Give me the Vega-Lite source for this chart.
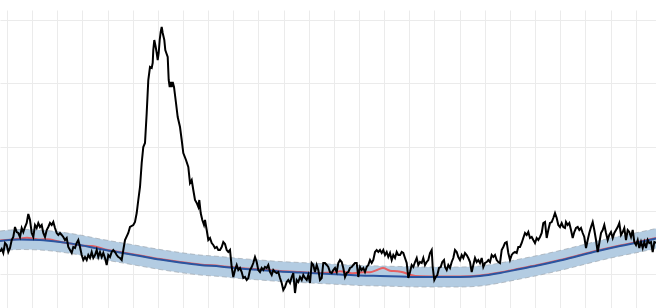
{
  "$schema": "https://vega.github.io/schema/vega-lite/v6.json",
  "width": 656,
  "height": 298,
  "autosize": "none",
  "padding": {"top": 10, "left": 0, "right": 0, "bottom": 0},
  "background": "white",
  "config": {
    "view": {"stroke": null},
    "axis": {"grid": true, "gridColor": "#ebebeb", "gridWidth": 1, "labels": false, "ticks": false, "domain": false, "title": null, "labelOverlap": false}
  },
  "datasets": {
    "trend": [
      {"t": 0, "v": 67}, {"t": 20, "v": 68.5}, {"t": 40, "v": 68}, {"t": 60, "v": 66}, {"t": 80, "v": 63},
      {"t": 100, "v": 59}, {"t": 120, "v": 55.5}, {"t": 140, "v": 52}, {"t": 160, "v": 48.5}, {"t": 180, "v": 45.5},
      {"t": 200, "v": 43}, {"t": 220, "v": 41.5}, {"t": 240, "v": 39.5}, {"t": 260, "v": 38}, {"t": 280, "v": 36.5},
      {"t": 300, "v": 35.5}, {"t": 320, "v": 34.5}, {"t": 340, "v": 33.5}, {"t": 360, "v": 32.5}, {"t": 380, "v": 32},
      {"t": 400, "v": 31.5}, {"t": 420, "v": 31}, {"t": 440, "v": 31}, {"t": 460, "v": 31}, {"t": 480, "v": 32},
      {"t": 500, "v": 35}, {"t": 520, "v": 39}, {"t": 540, "v": 43}, {"t": 560, "v": 47.5}, {"t": 580, "v": 52.5},
      {"t": 600, "v": 57.5}, {"t": 620, "v": 62}, {"t": 640, "v": 66}, {"t": 656, "v": 69.5}
    ],
    "band": [
      {"t": 0, "lo": 57, "hi": 77}, {"t": 20, "lo": 58.5, "hi": 78.5}, {"t": 40, "lo": 58, "hi": 78}, {"t": 60, "lo": 56, "hi": 76}, {"t": 80, "lo": 53, "hi": 73},
      {"t": 100, "lo": 49, "hi": 69}, {"t": 120, "lo": 45.5, "hi": 65.5}, {"t": 140, "lo": 42, "hi": 62}, {"t": 160, "lo": 38.5, "hi": 58.5}, {"t": 180, "lo": 35.5, "hi": 55.5},
      {"t": 200, "lo": 33, "hi": 53}, {"t": 220, "lo": 31.5, "hi": 51.5}, {"t": 240, "lo": 29.5, "hi": 49.5}, {"t": 260, "lo": 28, "hi": 48}, {"t": 280, "lo": 26.5, "hi": 46.5},
      {"t": 300, "lo": 25.5, "hi": 45.5}, {"t": 320, "lo": 24.5, "hi": 44.5}, {"t": 340, "lo": 23.5, "hi": 43.5}, {"t": 360, "lo": 22.5, "hi": 42.5}, {"t": 380, "lo": 22, "hi": 42},
      {"t": 400, "lo": 21.5, "hi": 41.5}, {"t": 420, "lo": 21, "hi": 41}, {"t": 440, "lo": 21, "hi": 41}, {"t": 460, "lo": 21, "hi": 41}, {"t": 480, "lo": 22, "hi": 42},
      {"t": 500, "lo": 25, "hi": 45}, {"t": 520, "lo": 29, "hi": 49}, {"t": 540, "lo": 33, "hi": 53}, {"t": 560, "lo": 37.5, "hi": 57.5}, {"t": 580, "lo": 42.5, "hi": 62.5},
      {"t": 600, "lo": 47.5, "hi": 67.5}, {"t": 620, "lo": 52, "hi": 72}, {"t": 640, "lo": 56, "hi": 76}, {"t": 656, "lo": 59.5, "hi": 79.5}
    ],
    "fit": [
      {"t": 0, "v": 67.5}, {"t": 10, "v": 68.3}, {"t": 20, "v": 69.5}, {"t": 27, "v": 70.3}, {"t": 33, "v": 69.5},
      {"t": 40, "v": 68.5}, {"t": 48, "v": 68.8}, {"t": 55, "v": 67.3}, {"t": 70, "v": 64.5}, {"t": 85, "v": 62.2},
      {"t": 92, "v": 62}, {"t": 97, "v": 61}, {"t": 105, "v": 58.5}, {"t": 120, "v": 56}, {"t": 140, "v": 52.5},
      {"t": 160, "v": 49}, {"t": 180, "v": 46}, {"t": 200, "v": 43.5}, {"t": 220, "v": 42}, {"t": 240, "v": 40},
      {"t": 260, "v": 38.5}, {"t": 280, "v": 37}, {"t": 300, "v": 36}, {"t": 320, "v": 35}, {"t": 335, "v": 35.7},
      {"t": 340, "v": 36.7}, {"t": 347, "v": 35.7}, {"t": 353, "v": 34.7}, {"t": 363, "v": 35.7}, {"t": 370, "v": 35.7},
      {"t": 377, "v": 38}, {"t": 383, "v": 40}, {"t": 390, "v": 37.3}, {"t": 397, "v": 36.7}, {"t": 403, "v": 35.7},
      {"t": 410, "v": 33.3}, {"t": 420, "v": 31.7}, {"t": 440, "v": 31.5}, {"t": 460, "v": 31.5}, {"t": 480, "v": 32.5},
      {"t": 500, "v": 35.5}, {"t": 520, "v": 39.5}, {"t": 540, "v": 43.5}, {"t": 560, "v": 48}, {"t": 580, "v": 53},
      {"t": 600, "v": 58}, {"t": 620, "v": 62.5}, {"t": 640, "v": 66.5}, {"t": 656, "v": 70}
    ],
    "series": [
      {"t":0,"v":56.3},{"t":1.7,"v":59},{"t":3.3,"v":55},{"t":5,"v":65},{"t":6.7,"v":63},{"t":8.3,"v":56},{"t":10,"v":60},{"t":11.7,"v":68},{"t":13.3,"v":71},{"t":15,"v":81},
      {"t":16.7,"v":76},{"t":18.3,"v":75},{"t":20,"v":71},{"t":21.7,"v":80},{"t":23.3,"v":76},{"t":25,"v":81},{"t":26.7,"v":85},{"t":28.3,"v":94},{"t":30,"v":88},{"t":31.7,"v":75},
      {"t":33.3,"v":71},{"t":35,"v":83},{"t":36.7,"v":80},{"t":38.3,"v":85},{"t":40,"v":81},{"t":41.7,"v":83},{"t":43.3,"v":75},{"t":45,"v":71},{"t":46.7,"v":78},{"t":48.3,"v":81},
      {"t":50,"v":85},{"t":51.7,"v":83},{"t":53.3,"v":86},{"t":55,"v":80},{"t":56.7,"v":75},{"t":58.3,"v":73},{"t":60,"v":75},{"t":61.7,"v":73},{"t":63.3,"v":71},{"t":65,"v":68},
      {"t":66.7,"v":70},{"t":68.3,"v":61},{"t":70,"v":58},{"t":71.7,"v":55},{"t":73.3,"v":61},{"t":75,"v":60},{"t":76.7,"v":65},{"t":78.3,"v":68},{"t":80,"v":61},{"t":81.7,"v":53},
      {"t":83.3,"v":48},{"t":85,"v":51},{"t":86.7,"v":48},{"t":88.3,"v":53},{"t":90,"v":50},{"t":91.7,"v":56},{"t":93.3,"v":50},{"t":95,"v":53},{"t":96.7,"v":58},{"t":98.3,"v":51},
      {"t":100,"v":56},{"t":101.7,"v":51},{"t":103.3,"v":55},{"t":105,"v":50},{"t":106.7,"v":43},{"t":108.3,"v":53},{"t":110,"v":51},{"t":111.7,"v":56},{"t":113.3,"v":58},{"t":115,"v":56},
      {"t":116.7,"v":53},{"t":118.3,"v":51},{"t":120,"v":50},{"t":121.7,"v":48},{"t":123.3,"v":58},{"t":125,"v":68},{"t":128.3,"v":75},{"t":130,"v":81},{"t":133.3,"v":83},{"t":135,"v":86},
      {"t":136.7,"v":95},{"t":138.3,"v":108},{"t":140,"v":121},{"t":141.7,"v":145},{"t":143.3,"v":161},{"t":145,"v":165},{"t":146.7,"v":195},{"t":148.3,"v":228},{"t":150,"v":241},{"t":151.7,"v":240},
      {"t":152.7,"v":245},{"t":153.3,"v":258},{"t":154.3,"v":268},{"t":155.7,"v":261},{"t":156.7,"v":255},{"t":157.7,"v":248},{"t":158.7,"v":255},{"t":159.7,"v":268},{"t":160.7,"v":276},{"t":161.7,"v":281},
      {"t":162.7,"v":275},{"t":164.3,"v":268},{"t":165.3,"v":258},{"t":166.3,"v":255},{"t":167.7,"v":251},{"t":168.7,"v":228},{"t":169.7,"v":221},{"t":170.7,"v":226},{"t":171.7,"v":221},{"t":172.7,"v":226},
      {"t":174,"v":221},{"t":176,"v":205},{"t":177.7,"v":191},{"t":180,"v":181},{"t":181.7,"v":168},{"t":183.3,"v":155},{"t":186,"v":148},{"t":188.3,"v":141},{"t":190,"v":125},{"t":191.7,"v":128},
      {"t":193.3,"v":118},{"t":195,"v":108},{"t":196.7,"v":105},{"t":198.3,"v":101},{"t":199.3,"v":108},{"t":200.7,"v":95},{"t":202.3,"v":88},{"t":204,"v":83},{"t":205,"v":88},{"t":206.7,"v":78},
      {"t":208.3,"v":68},{"t":210,"v":70},{"t":211.7,"v":65},{"t":213.3,"v":63},{"t":215,"v":60},{"t":216.7,"v":61},{"t":218.3,"v":58},{"t":220,"v":58},{"t":221.7,"v":61},{"t":223.3,"v":66},
      {"t":225,"v":64},{"t":226.7,"v":58},{"t":228.3,"v":56},{"t":230,"v":58},{"t":231.7,"v":41},{"t":233.3,"v":31},{"t":235,"v":38},{"t":236.7,"v":43},{"t":238.3,"v":38},{"t":240,"v":40},
      {"t":241.7,"v":36},{"t":243.3,"v":30},{"t":245,"v":31},{"t":246.7,"v":28},{"t":248.3,"v":30},{"t":250,"v":38},{"t":251.7,"v":41},{"t":253.3,"v":45},{"t":255,"v":51},{"t":256.7,"v":46},
      {"t":258.3,"v":38},{"t":260,"v":36},{"t":261.7,"v":40},{"t":263.3,"v":38},{"t":265,"v":41},{"t":266.7,"v":40},{"t":268.3,"v":43},{"t":270,"v":36},{"t":271.7,"v":33},{"t":273.3,"v":38},
      {"t":275,"v":36},{"t":276.7,"v":35},{"t":278.3,"v":36},{"t":280,"v":30},{"t":281.7,"v":25},{"t":283.3,"v":18},{"t":285,"v":21},{"t":286.7,"v":26},{"t":288.3,"v":28},{"t":290,"v":25},
      {"t":291.7,"v":31},{"t":293.3,"v":35},{"t":295,"v":15},{"t":296.7,"v":28},{"t":298.3,"v":26},{"t":300,"v":31},{"t":301.7,"v":28},{"t":303.3,"v":33},{"t":305,"v":30},{"t":306.7,"v":28},
      {"t":308.3,"v":33},{"t":310,"v":25},{"t":311.7,"v":45},{"t":313.3,"v":43},{"t":315,"v":36},{"t":316.7,"v":43},{"t":318.3,"v":38},{"t":320,"v":28},{"t":321.7,"v":30},{"t":323.3,"v":45},
      {"t":325,"v":45},{"t":326.7,"v":43},{"t":328.3,"v":41},{"t":330,"v":36},{"t":331.7,"v":35},{"t":333.3,"v":38},{"t":335,"v":40},{"t":336.7,"v":36},{"t":338.3,"v":45},{"t":340,"v":48},
      {"t":341.7,"v":46},{"t":343.3,"v":40},{"t":345,"v":31},{"t":346.7,"v":35},{"t":348.3,"v":36},{"t":350,"v":40},{"t":351.7,"v":41},{"t":353.3,"v":43},{"t":355,"v":45},{"t":356.7,"v":45},
      {"t":358.3,"v":31},{"t":360,"v":41},{"t":361.7,"v":38},{"t":363.3,"v":40},{"t":365,"v":36},{"t":366.7,"v":41},{"t":368.3,"v":43},{"t":370,"v":48},{"t":371.7,"v":45},{"t":373.3,"v":48},
      {"t":375,"v":56},{"t":376.7,"v":58},{"t":378.3,"v":56},{"t":380,"v":58},{"t":381.7,"v":55},{"t":383.3,"v":58},{"t":385,"v":53},{"t":386.7,"v":56},{"t":388.3,"v":51},{"t":390,"v":55},
      {"t":391.7,"v":48},{"t":393.3,"v":53},{"t":395,"v":50},{"t":396.7,"v":56},{"t":398.3,"v":53},{"t":400,"v":53},{"t":401.7,"v":56},{"t":403.3,"v":55},{"t":405,"v":50},{"t":406.7,"v":45},
      {"t":408.3,"v":30},{"t":410,"v":36},{"t":411.7,"v":43},{"t":413.3,"v":41},{"t":415,"v":46},{"t":416.7,"v":50},{"t":418.3,"v":43},{"t":420,"v":46},{"t":421.7,"v":45},{"t":423.3,"v":50},
      {"t":425,"v":43},{"t":426.7,"v":46},{"t":428.3,"v":48},{"t":430,"v":55},{"t":431.7,"v":58},{"t":432.7,"v":41},{"t":434.3,"v":28},{"t":435.7,"v":31},{"t":437.3,"v":33},{"t":439,"v":40},
      {"t":440.7,"v":41},{"t":442.3,"v":46},{"t":444,"v":48},{"t":445,"v":41},{"t":446.7,"v":38},{"t":448.3,"v":43},{"t":450,"v":40},{"t":451.7,"v":46},{"t":453.3,"v":50},{"t":455,"v":58},
      {"t":456.7,"v":56},{"t":458.3,"v":51},{"t":460,"v":48},{"t":461.7,"v":53},{"t":463.3,"v":50},{"t":465,"v":55},{"t":466.7,"v":53},{"t":468.3,"v":50},{"t":470,"v":46},{"t":471.7,"v":36},
      {"t":473.3,"v":43},{"t":475,"v":50},{"t":476.7,"v":46},{"t":478.3,"v":48},{"t":480,"v":45},{"t":481.7,"v":50},{"t":483.3,"v":41},{"t":485,"v":45},{"t":486.7,"v":46},{"t":488.3,"v":48},
      {"t":490,"v":46},{"t":491.7,"v":53},{"t":493.3,"v":51},{"t":495,"v":53},{"t":496.7,"v":48},{"t":498.3,"v":46},{"t":500,"v":45},{"t":501.7,"v":58},{"t":503.3,"v":61},{"t":505,"v":65},
      {"t":506.7,"v":66},{"t":508.3,"v":55},{"t":510,"v":48},{"t":511.7,"v":53},{"t":513.3,"v":55},{"t":515,"v":56},{"t":516.7,"v":55},{"t":518.3,"v":61},{"t":520,"v":61},{"t":521.7,"v":65},
      {"t":523.3,"v":70},{"t":525,"v":75},{"t":526.7,"v":73},{"t":528.3,"v":76},{"t":530,"v":70},{"t":531.7,"v":71},{"t":533.3,"v":68},{"t":535,"v":65},{"t":536.7,"v":70},{"t":538.3,"v":68},
      {"t":540,"v":71},{"t":541.7,"v":75},{"t":543.3,"v":85},{"t":545,"v":86},{"t":546.7,"v":70},{"t":548.3,"v":78},{"t":550,"v":85},{"t":551.7,"v":86},{"t":553.3,"v":90},{"t":555,"v":95},
      {"t":556.7,"v":90},{"t":558.3,"v":83},{"t":560,"v":81},{"t":561.7,"v":85},{"t":563.3,"v":81},{"t":565,"v":80},{"t":566,"v":86},{"t":567.7,"v":83},{"t":569.3,"v":85},{"t":571,"v":78},
      {"t":572.7,"v":70},{"t":574.3,"v":76},{"t":576,"v":80},{"t":577.7,"v":81},{"t":579.3,"v":78},{"t":581,"v":80},{"t":582.7,"v":75},{"t":584.3,"v":71},{"t":586,"v":60},{"t":587.7,"v":68},
      {"t":589.3,"v":75},{"t":591,"v":81},{"t":592.7,"v":86},{"t":594.3,"v":78},{"t":596,"v":68},{"t":597.7,"v":56},{"t":599.3,"v":65},{"t":601,"v":75},{"t":602.7,"v":78},{"t":604.3,"v":83},
      {"t":606,"v":75},{"t":607.7,"v":68},{"t":609.3,"v":73},{"t":611,"v":76},{"t":612.7,"v":70},{"t":614.3,"v":75},{"t":616,"v":78},{"t":617.7,"v":81},{"t":619.3,"v":85},{"t":621,"v":73},
      {"t":622.7,"v":76},{"t":624.3,"v":80},{"t":626,"v":68},{"t":627.7,"v":78},{"t":629.3,"v":76},{"t":631,"v":71},{"t":632.7,"v":78},{"t":634.3,"v":66},{"t":636,"v":63},{"t":637.7,"v":68},
      {"t":639.3,"v":60},{"t":641,"v":66},{"t":642.7,"v":60},{"t":644.3,"v":66},{"t":646,"v":60},{"t":647.7,"v":68},{"t":649.3,"v":65},{"t":651,"v":66},{"t":652.7,"v":56},{"t":654.3,"v":66},
      {"t":656,"v":65}
    ]
  },
  "layer": [
    {
      "data": {"name": "band"},
      "mark": {"type": "area", "color": "#b3cce2", "opacity": 1, "interpolate": "monotone"},
      "encoding": {
        "x": {"field": "t", "type": "quantitative", "scale": {"domain": [0, 656], "nice": false, "zero": false}, "axis": {"values": [7, 32, 57, 82, 108, 133, 158, 183, 208, 233, 258, 284, 309, 334, 359, 384, 409, 434, 460, 485, 510, 535, 560, 585, 611, 636], "tickCount": 30}},
        "y": {"field": "lo", "type": "quantitative", "scale": {"domain": [0, 298], "nice": false, "zero": false}, "axis": {"values": [34, 97, 161, 225, 288]}},
        "y2": {"field": "hi"}
      }
    },
    {
      "data": {"name": "band"},
      "mark": {"type": "line", "color": "#a0a8b0", "strokeWidth": 1, "strokeDash": [5, 3], "interpolate": "monotone", "opacity": 0.7},
      "encoding": {"x": {"field": "t", "type": "quantitative"}, "y": {"field": "lo", "type": "quantitative"}}
    },
    {
      "data": {"name": "band"},
      "mark": {"type": "line", "color": "#a0a8b0", "strokeWidth": 1, "strokeDash": [5, 3], "interpolate": "monotone", "opacity": 0.7},
      "encoding": {"x": {"field": "t", "type": "quantitative"}, "y": {"field": "hi", "type": "quantitative"}}
    },
    {
      "data": {"name": "fit"},
      "mark": {"type": "line", "color": "#ee4c4c", "strokeWidth": 2, "interpolate": "monotone", "opacity": 0.85},
      "encoding": {"x": {"field": "t", "type": "quantitative"}, "y": {"field": "v", "type": "quantitative"}}
    },
    {
      "data": {"name": "trend"},
      "mark": {"type": "line", "color": "#2a55a0", "strokeWidth": 2, "interpolate": "monotone"},
      "encoding": {"x": {"field": "t", "type": "quantitative"}, "y": {"field": "v", "type": "quantitative"}}
    },
    {
      "data": {"name": "series"},
      "mark": {"type": "line", "color": "#000000", "strokeWidth": 2},
      "encoding": {"x": {"field": "t", "type": "quantitative"}, "y": {"field": "v", "type": "quantitative"}}
    }
  ]
}
